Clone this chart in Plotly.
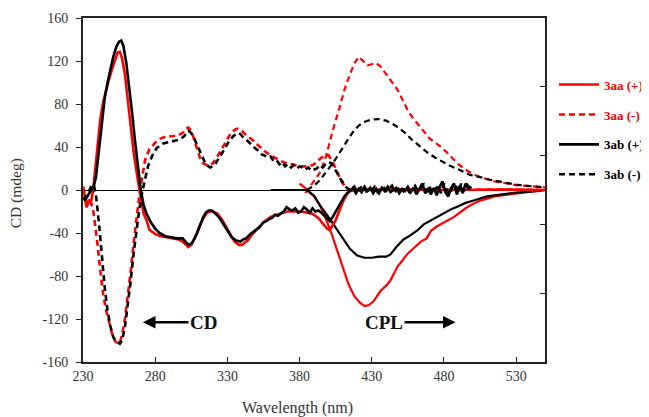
import plotly.graph_objects as go

# ---------------- data ----------------
# CD spectra (mdeg)
wl_cd_3aa_pos = [230, 231, 232.5, 234, 235.5, 237, 238.5, 240, 242, 244, 246, 248, 250, 252, 254, 255.5, 257, 259,
                 261, 263, 265, 268, 270.5, 272, 274, 276, 280, 284, 288, 292, 296, 299, 301, 303, 305, 307, 309,
                 311, 313, 316, 318, 320, 323, 326, 329, 332, 335, 338, 340, 342, 344, 348, 352, 356, 360, 364,
                 368, 371, 375, 380, 385, 389, 393, 396, 399, 401, 403, 405, 408, 410, 412, 414, 420, 430, 450,
                 480, 520, 550]
cd_3aa_pos = [3, -6, -16, -9, -12, 0, 20, 40, 66, 82, 93, 103, 112, 121, 128, 128.5, 123, 108,
              84, 62, 36, 9, -12, -22, -28, -37, -41, -43, -44, -45, -46, -48, -51, -53, -51, -46, -40,
              -33, -27, -21, -20, -20, -22, -27, -34, -41, -48, -51, -51, -49, -47, -40, -34, -29, -25, -23,
              -21, -20, -20, -20, -21, -22, -26, -31, -36, -37, -33, -28, -18, -11, -6, -1.5, 0.5, 0, 0.5,
              0, 0.5, 0]

wl_cd_3aa_neg = [230, 231, 232.5, 234, 235.5, 237, 238.5, 240, 242, 244, 246, 248, 250, 252, 254, 255.5, 257, 259,
                 261, 263, 265, 267, 269, 271, 273, 276, 280, 284, 288, 292, 296, 299, 301, 303, 305, 307, 309,
                 311, 313, 316, 318, 320, 323, 326, 329, 332, 335, 337, 340, 343, 347, 351, 355, 359, 363, 367,
                 371, 375, 380, 385, 389, 392, 395, 398, 400, 403, 406, 409, 412, 414, 420, 430, 450, 480, 520,
                 550]
cd_3aa_neg = [3, -6, -16, -9, -12, -18, -32, -50, -75, -97, -112, -124, -133, -140, -143, -142, -135, -120,
              -100, -76, -50, -25, -5, 12, 28, 38, 44, 48, 50, 50, 51, 53, 57, 58, 55, 47, 38,
              30, 25, 23, 23, 25, 31, 38, 46, 52, 56, 57, 55, 51, 47, 42, 37, 33, 30, 27,
              25, 24, 22, 22, 23, 26, 30, 32, 32.5, 26, 17, 8, 2, 0, 0.5, 0, 0.5, 0, 0.5,
              0]

wl_cd_3ab_pos = [230, 231.5, 233, 234.5, 236, 237.5, 239, 241, 243, 245, 247, 249, 251, 253, 255, 256.5, 258, 260,
                 262, 264, 266, 268, 270, 272, 274, 277, 280, 283, 287, 291, 295, 299, 301, 303, 305, 307, 309,
                 311, 313, 315, 317, 319, 321, 324, 327, 330, 333, 336, 339, 341, 343, 346, 349, 352, 355, 357,
                 359, 361, 363, 365, 367, 369, 371, 373, 375, 377, 379, 381, 383, 385, 387, 389, 391, 393, 395,
                 397, 399, 401, 403, 405, 407, 409, 411, 413, 415, 417, 419, 421, 423, 425, 427, 429, 431, 433,
                 435, 437, 439, 441, 443, 445, 447, 449, 451, 453, 455, 457, 459, 461, 463, 465, 467, 469, 471,
                 473, 475, 477, 479, 481, 483, 485, 487, 489, 491, 493, 495, 497, 499]
cd_3ab_pos = [-8, -9, -6, -3, 0, 4, 12, 35, 62, 85, 100, 113, 124, 133, 138, 139, 134, 118,
              96, 72, 46, 20, 0, -14, -22, -30, -36, -40, -43, -44, -45, -45, -48, -51, -50, -46, -40,
              -33, -26, -21, -19, -19, -21, -25, -31, -38, -44, -47, -48, -46, -45, -41, -38, -35, -30, -29,
              -27, -26, -23, -24, -22, -20, -16, -18, -19, -17, -21, -20, -16, -18, -21, -17, -20, -19, -21,
              -24, -27, -29, -25, -20, -15, -10, -6, -3, -1, 2, -3, 1, -2, 3, -1, 2, -3, 1,
              -3, 2, -1, 3, -2, 0, 2, -3, 1, -1, 3, -2, 2, -4, 1, 6, -3, 1, -4,
              2, -5, 3, 8, -2, -6, 2, 6, -4, 4, -3, 6, 1, 3]

wl_cd_3ab_neg = [230, 231.5, 233, 234.5, 236, 237.5, 239, 241, 243, 245, 247, 249, 251, 253, 255.5, 257, 259, 261,
                 263, 265, 267, 269, 271, 273, 275, 278, 281, 285, 290, 294, 297, 300, 303, 305, 307, 309, 311,
                 313, 315, 318, 320, 322, 325, 328, 331, 334, 337, 339, 341, 343, 346, 349, 352, 354, 356, 358,
                 360, 362, 364, 366, 368, 370, 372, 374, 376, 378, 380, 382, 384, 386, 388, 390, 392, 394, 396,
                 398, 400, 402, 404, 406, 408, 410, 412, 414, 416, 418, 420, 422, 424, 426, 428, 430, 432, 434,
                 436, 438, 440, 442, 444, 446, 448, 450, 452, 454, 456, 458, 460, 462, 464, 466, 468, 470, 472,
                 474, 476, 478, 480, 482, 484, 486, 488, 490, 492, 494, 496, 498]
cd_3ab_neg = [-9, -7, -4, 0, 4, 5, -5, -30, -62, -90, -112, -127, -137, -141, -143, -140, -128, -108,
              -85, -60, -38, -18, -2, 10, 22, 32, 39, 43, 45, 46, 47, 50, 55, 53, 48, 42, 35,
              29, 24, 21, 22, 25, 31, 38, 45, 50, 53, 52, 49, 47, 43, 39, 36, 33, 32, 30,
              31, 27, 28, 24, 26, 22, 24, 21, 23, 20, 22, 21, 19, 21, 18, 19, 20, 23, 21,
              24, 26, 25, 21, 16, 11, 7, 3, 1, -1, 3, -2, 2, 4, -1, 2, 0, 3, -2,
              1, 3, -1, 2, 4, -2, 1, 3, -1, 2, -2, 1, 4, -1, 2, 5, -2, 3, -3,
              1, 4, -3, 6, 0, -4, 3, 5, -2, 6, -1, 5, 2]

# CPL spectra (plotted on the same scale)
wl_cpl_3aa_pos = [380, 383, 386, 390, 394, 398, 402, 406, 410, 414, 418, 422, 425, 428, 431, 433, 436, 440, 443,
                  446, 448, 451, 455, 460, 464, 468, 471, 475, 479, 483, 487, 491, 495, 500, 505, 510, 515,
                  520, 525, 530, 535, 540, 545, 550]
cpl_3aa_pos = [6, 3, -1, -6, -14, -26, -40, -56, -73, -88, -99, -105, -108, -107, -104, -100, -94, -89, -84,
               -76, -71, -66, -59, -53, -48, -45, -38, -34, -31, -28, -25, -21, -17, -13, -10, -8, -6,
               -5, -4, -3, -2, -1.5, -1, 0]

wl_cpl_3aa_neg = [384, 387, 390, 394, 398, 401, 404, 408, 411, 415, 418, 421, 424, 427, 430, 433, 436, 440,
                  444, 448, 452, 455, 459, 463, 467, 470, 474, 478, 482, 486, 490, 495, 500, 505, 510, 515,
                  520, 525, 530, 540, 550]
cpl_3aa_neg = [-3, 3, 8, 16, 30, 46, 60, 78, 93, 108, 118, 124, 120, 116, 117, 118, 115, 108,
               100, 93, 82, 74, 66, 59, 53, 48, 44, 40, 35, 29, 24, 19, 15, 12, 10, 8,
               7, 5.5, 4.5, 3.5, 2.5]

wl_cpl_3ab_pos = [360, 370, 380, 385, 390, 394, 400, 405, 410, 415, 420, 425, 430, 435, 440, 443, 447, 452,
                  457, 462, 466, 470, 475, 480, 485, 490, 495, 500, 505, 510, 515, 520, 530, 540, 550]
cpl_3ab_pos = [0, 0, 0, 0, -5, -14, -25, -35, -46, -55, -61, -63, -63, -62, -62, -60, -53, -46,
               -42, -37, -32, -29, -25, -22, -18, -15, -12, -10, -8, -6, -5, -4, -2.5, -1.5, 0]

wl_cpl_3ab_neg = [385, 390, 394, 398, 403, 407, 410, 414, 417, 421, 426, 430, 435, 440, 445, 449, 454, 458,
                  463, 468, 474, 479, 485, 491, 498, 505, 512, 520, 530, 540, 550]
cpl_3ab_neg = [0, 4, 9, 16, 25, 33, 40, 48, 54, 60, 64, 65.5, 66, 64.5, 61, 57.5, 52, 46.5,
               41, 35.5, 30, 26, 22, 18.5, 14, 12, 9.5, 7.5, 5, 3.5, 2.5]

series_names = ["3aa (+)", "3aa (-)", "3ab (+)", "3ab (-)"]
series_colors = ["#FF0000", "#FF0000", "#000000", "#000000"]
series_dash = ["solid", "6px,4px", "solid", "6px,4px"]

x_ticks = [230, 280, 330, 380, 430, 480, 530]
y_ticks = [-160, -120, -80, -40, 0, 40, 80, 120, 160]
y_ticklabels = ["-160", "-120", "-80", "-40", "0", "40", "80", "120", "160"]
right_ticks = [-96, -32, 32, 96]

cd_sets = [(wl_cd_3aa_pos, cd_3aa_pos), (wl_cd_3aa_neg, cd_3aa_neg),
           (wl_cd_3ab_pos, cd_3ab_pos), (wl_cd_3ab_neg, cd_3ab_neg)]
cpl_sets = [(wl_cpl_3aa_pos, cpl_3aa_pos), (wl_cpl_3aa_neg, cpl_3aa_neg),
            (wl_cpl_3ab_pos, cpl_3ab_pos), (wl_cpl_3ab_neg, cpl_3ab_neg)]

# ---------------- figure ----------------
fig = go.Figure()
serif = "Liberation Serif, Times New Roman, serif"

for i in range(4):
    grp = f"g{i}"
    fig.add_trace(go.Scatter(
        x=cpl_sets[i][0], y=cpl_sets[i][1], mode="lines",
        line=dict(color=series_colors[i], width=2.2, dash=series_dash[i]),
        legendgroup=grp, showlegend=False, hoverinfo="skip"))
for i in range(4):
    grp = f"g{i}"
    fig.add_trace(go.Scatter(
        x=cd_sets[i][0], y=cd_sets[i][1], mode="lines",
        name=f'<span style="color:{series_colors[i]}"><b>{series_names[i]}</b></span>',
        line=dict(color=series_colors[i], width=2.6, dash=series_dash[i]),
        legendgroup=grp, showlegend=True))

# invisible trace to host the right axis
fig.add_trace(go.Scatter(x=[230], y=[0], yaxis="y2", mode="markers",
                         marker=dict(opacity=0), showlegend=False, hoverinfo="skip"))

fig.update_layout(
    width=649, height=417,
    margin=dict(l=75, r=112, t=10, b=63),
    paper_bgcolor="white", plot_bgcolor="white",
    font=dict(family=serif, size=14, color="#333333"),
    xaxis=dict(range=[230, 550], tickvals=x_ticks, ticks="inside", ticklen=5, tickwidth=1.2,
               tickcolor="#222222", showline=True, linecolor="#222222", linewidth=2, mirror=True,
               showgrid=False, zeroline=False, automargin=False,
               tickfont=dict(size=14, color="#333333")),
    yaxis=dict(range=[-160, 160], tickvals=y_ticks, ticktext=y_ticklabels, ticks="outside", ticklen=5,
               tickwidth=1.2, tickcolor="#222222", showline=True, linecolor="#222222", linewidth=2,
               showgrid=False, zeroline=True, zerolinecolor="#000000", zerolinewidth=1.2, automargin=False,
               ticklabelstandoff=5, tickfont=dict(size=14, color="#333333")),
    yaxis2=dict(range=[-160, 160], overlaying="y", side="right", tickvals=right_ticks,
                ticks="inside", ticklen=5, tickwidth=1.2, tickcolor="#222222",
                showticklabels=False, showline=True, linecolor="#222222", linewidth=2,
                showgrid=False, zeroline=False, automargin=False),
    legend=dict(xref="container", x=0.8413, xanchor="left", y=0.85, yanchor="top", tracegroupgap=10,
                itemwidth=40, font=dict(family=serif, size=13),
                bgcolor="rgba(0,0,0,0)"),
    showlegend=True,
)

# axis titles
fig.add_annotation(text="CD (mdeg)", xref="paper", yref="paper", x=-0.143, y=0.49,
                   textangle=-90, showarrow=False, xanchor="center", yanchor="middle",
                   font=dict(family=serif, size=15.5, color="#333333"))
fig.add_annotation(text="Wavelength (nm)", xref="paper", yref="paper", x=0.465, y=-0.134,
                   showarrow=False, xanchor="center", yanchor="middle",
                   font=dict(family=serif, size=16, color="#333333"))

# CD / CPL labels with arrows
fig.add_annotation(x=271.5, y=-123, ax=313.5, ay=-123, axref="x", ayref="y", xref="x", yref="y",
                   text="<b>CD</b>", font=dict(family=serif, size=19, color="#111111"),
                   showarrow=True, arrowhead=2, arrowsize=1, arrowwidth=2.5, arrowcolor="#000000")
fig.add_annotation(x=488, y=-123, ax=438.5, ay=-123, axref="x", ayref="y", xref="x", yref="y",
                   text="<b>CPL</b>", font=dict(family=serif, size=19, color="#111111"),
                   showarrow=True, arrowhead=2, arrowsize=1, arrowwidth=2.5, arrowcolor="#000000")

fig.write_html("out.html")
